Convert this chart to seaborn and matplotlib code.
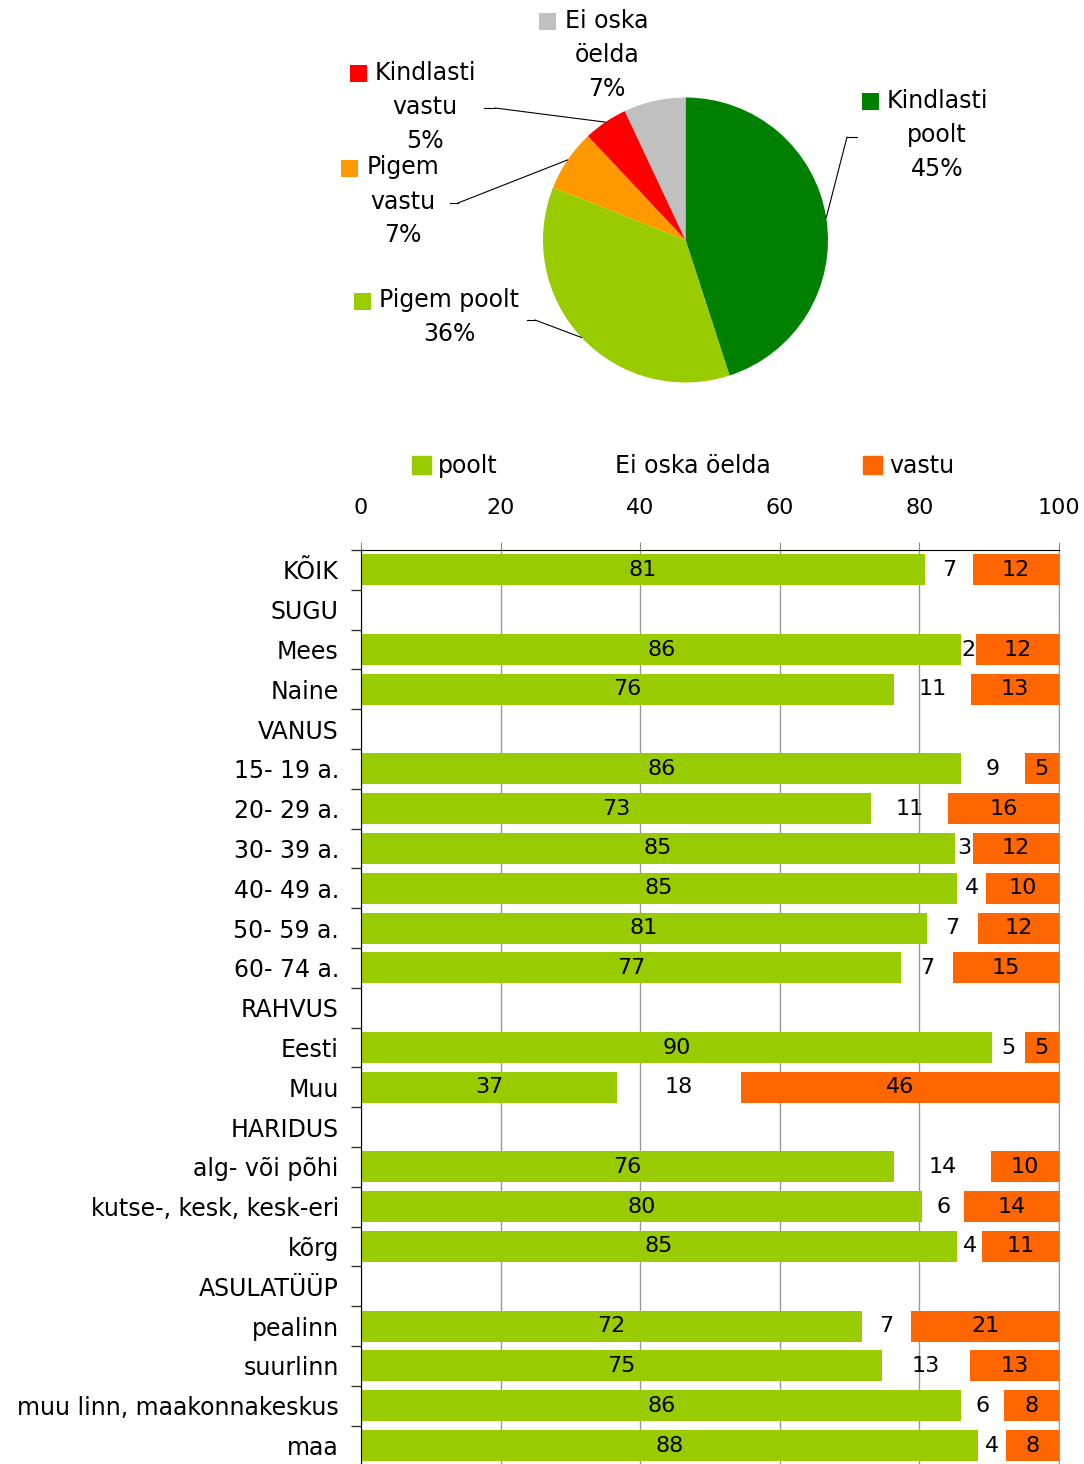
import numpy as np
import pandas as pd
import matplotlib
matplotlib.use("Agg")
import matplotlib.pyplot as plt
from matplotlib.patches import Patch, Rectangle
from matplotlib.lines import Line2D
import seaborn as sns

##############################################################
# Andmed
##############################################################

# ringdiagramm
pie_labels = ["Kindlasti\npoolt", "Pigem poolt", "Pigem\nvastu", "Kindlasti\nvastu", "Ei oska\nöelda"]
pie_values = [45, 36, 7, 5, 7]
pie_colors = ["#008000", "#99CC00", "#FF9900", "#FF0000", "#C0C0C0"]

# tulpdiagramm (hinnangulised täpsed väärtused, sildid ümardatud)
groups = ["KÕIK", "SUGU", "Mees", "Naine", "VANUS", "15- 19 a.", "20- 29 a.", "30- 39 a.",
          "40- 49 a.", "50- 59 a.", "60- 74 a.", "RAHVUS", "Eesti", "Muu", "HARIDUS",
          "alg- või põhi", "kutse-, kesk, kesk-eri", "kõrg", "ASULATÜÜP", "pealinn",
          "suurlinn", "muu linn, maakonnakeskus", "maa"]
poolt = [80.8, None, 86.0, 76.4, None, 86.0, 73.1, 85.1, 85.4, 81.1, 77.4, None, 90.4, 36.7,
         None, 76.4, 80.4, 85.4, None, 71.8, 74.6, 86.0, 88.4]
ei_oska = [6.9, None, 2.1, 11.0, None, 9.1, 11.0, 2.6, 4.2, 7.3, 7.4, None, 4.7, 17.7,
           None, 13.9, 6.0, 3.6, None, 7.0, 12.6, 6.1, 4.0]
vastu = [12.3, None, 11.9, 12.6, None, 4.9, 15.9, 12.3, 10.4, 11.6, 15.2, None, 4.9, 45.6,
         None, 9.7, 13.6, 11.0, None, 21.2, 12.8, 7.9, 7.6]
x_ticks = [0, 20, 40, 60, 80, 100]
legend_labels = ["poolt", "Ei oska öelda", "vastu"]

green = "#99CC00"
orange = "#FF6600"

plt.rcParams["font.family"] = ["DejaVu Sans"]

W, H = 1084, 1464


def fx(x):
    return x / W


def fy(y):
    return 1 - y / H


fig = plt.figure(figsize=(W / 100, H / 100), dpi=100)

##############################################################
# Ringdiagramm
##############################################################

ax_pie = fig.add_axes([fx(543), fy(382.5), 285 / W, 285 / H])
ax_pie.pie(pie_values, colors=pie_colors, startangle=90, counterclock=False,
           radius=1, wedgeprops=dict(linewidth=0))
ax_pie.set_xlim(-1, 1)
ax_pie.set_ylim(-1, 1)

# sildi paigutus: teksti keskkoht x, ridade y, ruudu vasak-ülemine nurk, murdepunkt, joone ots
pie_layout = [
    dict(cx=937, ys=[101, 135, 169], sq=(862, 93), knee=(847, 137), end=(857, 137)),
    dict(cx=449, ys=[300, 334], sq=(354, 293), knee=(535, 320), end=(527, 320)),
    dict(cx=403, ys=[167, 202, 235], sq=(341, 160), knee=(458, 203), end=(450, 203)),
    dict(cx=425, ys=[73, 107, 141], sq=(350, 65), knee=(495, 108), end=(484, 108)),
    dict(cx=607, ys=[21, 55, 89], sq=(539, 13), knee=None, end=None),
]

total = sum(pie_values)
cum = 0
for lab, val, col, lay in zip(pie_labels, pie_values, pie_colors, pie_layout):
    mid = 90 - 360 * (cum + val / 2) / total
    cum += val
    lines = lab.split("\n") + [f"{val}%"]
    for line, yy in zip(lines, lay["ys"]):
        fig.text(fx(lay["cx"]), fy(yy), line, ha="center", va="center", fontsize=17)
    sx, sy = lay["sq"]
    fig.add_artist(Rectangle((fx(sx), fy(sy + 17)), 17 / W, 17 / H,
                             transform=fig.transFigure, color=col, lw=0))
    if lay["knee"] is not None:
        ex, ey = np.cos(np.radians(mid)), np.sin(np.radians(mid))
        kx, ky = lay["knee"]
        ax_pie.annotate("", xy=(ex, ey), xycoords="data",
                        xytext=(fx(kx), fy(ky)), textcoords="figure fraction",
                        arrowprops=dict(arrowstyle="-", color="black", lw=0.8,
                                        shrinkA=0, shrinkB=0))
        fig.add_artist(Line2D([fx(kx), fx(lay["end"][0])], [fy(ky), fy(lay["end"][1])],
                              color="black", lw=0.8))

##############################################################
# Tulpdiagramm
##############################################################

df = pd.DataFrame({"group": groups, "poolt": poolt, "ei": ei_oska, "vastu": vastu})
df_bar = df.fillna(0)

ax = fig.add_axes([fx(361), fy(1465.4), 698 / W, 915.4 / H])

sns.barplot(data=df_bar, y="group", x="poolt", order=groups, color=green, orient="h",
            width=0.78, saturation=1, errorbar=None, ax=ax, zorder=2)
left_v = (df_bar["poolt"] + df_bar["ei"]).to_numpy()
sns.barplot(data=df_bar, y="group", x="vastu", order=groups, color=orange, orient="h",
            width=0.78, saturation=1, errorbar=None, ax=ax, zorder=2, left=left_v)

for i, row in df.iterrows():
    if pd.isna(row["poolt"]):
        continue
    p, e, v = row["poolt"], row["ei"], row["vastu"]
    ax.text(p / 2, i, f"{p:.0f}", ha="center", va="center", fontsize=16, zorder=3)
    ax.text(p + e / 2, i, f"{e:.0f}", ha="center", va="center", fontsize=16, zorder=3)
    ax.text((p + e + min(p + e + v, 100)) / 2, i, f"{v:.0f}", ha="center", va="center",
            fontsize=16, zorder=3)

ax.set_xlim(0, 100)
ax.set_ylim(len(groups) - 0.5, -0.5)
ax.xaxis.tick_top()
ax.set_xticks(x_ticks)
ax.set_xticklabels([str(t) for t in x_ticks])
ax.tick_params(axis="x", top=True, bottom=False, length=6, color="#888888", pad=17, labelsize=16)

ax.set_yticks(range(len(groups)))
ax.set_yticklabels(groups)
ax.set_yticks(np.arange(-0.5, len(groups), 1), minor=True)
ax.tick_params(axis="y", which="major", length=0, pad=16, labelsize=17)
ax.tick_params(axis="y", which="minor", length=7, color="#333333", width=1, direction="out")

ax.xaxis.grid(True, color="#999999", lw=1)
ax.yaxis.grid(False)
ax.set_axisbelow(True)
ax.set_xlabel("")
ax.set_ylabel("")
ax.spines["left"].set_color("black")
ax.spines["top"].set_color("black")
ax.spines["right"].set_color("#999999")
ax.spines["bottom"].set_visible(False)

handles = [Patch(color=green), Patch(facecolor="none", edgecolor="none"), Patch(color=orange)]
fig.legend(handles, legend_labels, loc="center", bbox_to_anchor=(fx(683), fy(466)), ncol=3,
           frameon=False, fontsize=17, handlelength=0.8, handleheight=0.8,
           handletextpad=0.3, columnspacing=3.9)

fig.savefig("out.png", dpi=100)
